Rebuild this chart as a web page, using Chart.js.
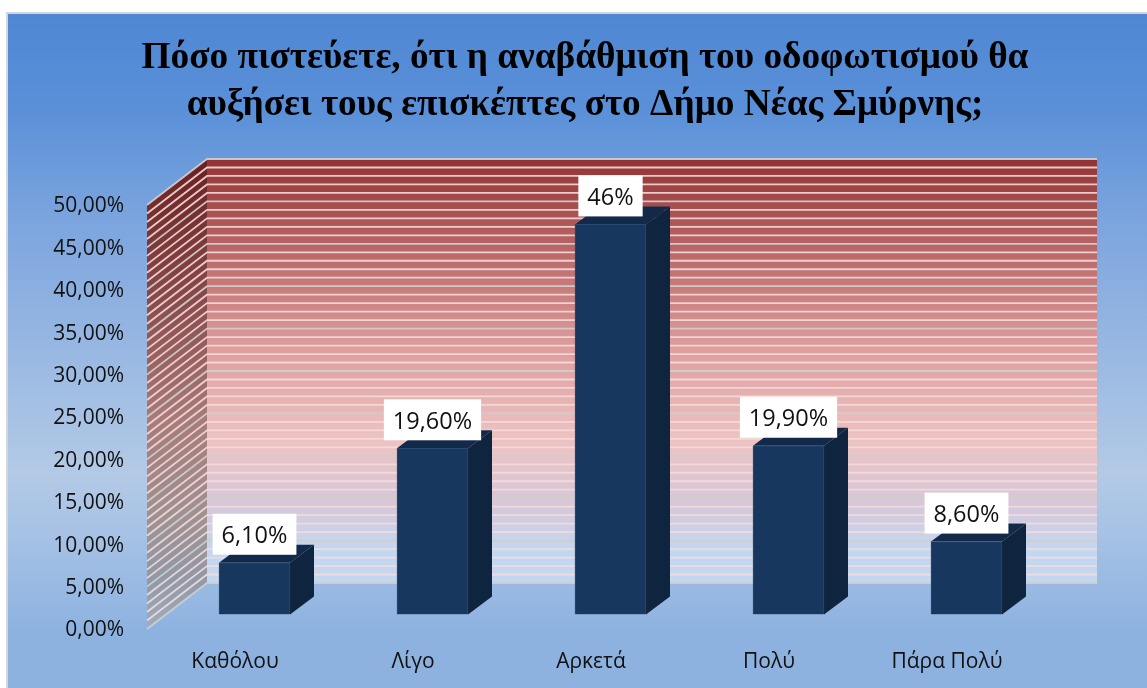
<!DOCTYPE html>
<html>
<head>
<meta charset="utf-8">
<script src="https://cdn.jsdelivr.net/npm/chart.js@4"></script>
<style>
  html, body { margin: 0; padding: 0; background: #fff; overflow: hidden; }
  #frame {
    position: absolute; left: 6px; top: 12px; width: 1141px; height: 676px;
    box-sizing: border-box;
    border-left: 2px solid #d4d6d9; border-top: 2px solid #d4d6d9;
    background: linear-gradient(180deg, #4f87d4 0%, #5a90d8 14%, #7ba4de 30%, #b3cae6 68%, #a8c3e5 76%, #8db2e0 92%, #8db2e0 100%);
  }
  canvas { position: absolute; left: 0; top: 0; }
</style>
</head>
<body>
<div id="frame"></div>
<canvas id="chart" width="1147" height="688"></canvas>
<script>
const titleLines = [
  "Πόσο πιστεύετε, ότι η αναβάθμιση του οδοφωτισμού θα",
  "αυξήσει τους επισκέπτες στο Δήμο Νέας Σμύρνης;"
];
const categories = ["Καθόλου", "Λίγο", "Αρκετά", "Πολύ", "Πάρα Πολύ"];
const values = [6.1, 19.6, 46, 19.9, 8.6];
const valueLabels = ["6,10%", "19,60%", "46%", "19,90%", "8,60%"];

const FONT = '"Open Sans", sans-serif';
// depth of the fake 3d box, in pixels
const wallDepth = { x: 60, y: -46 };
const barShift = { x: 18.5, y: -14.5 };
const barDepth = { x: 24, y: -18 };

// back wall and left wall with the 1% grid lines
const wallsPlugin = {
  id: "walls",
  beforeDatasetsDraw(chart) {
    const { ctx, chartArea: a, scales } = chart;
    const y = scales.y;
    const top = y.getPixelForValue(50), bottom = y.getPixelForValue(0);

    const back = ctx.createLinearGradient(0, top + wallDepth.y, 0, bottom + wallDepth.y);
    back.addColorStop(0, "#923333");
    back.addColorStop(0.2, "#b86363");
    back.addColorStop(0.45, "#de9e9e");
    back.addColorStop(0.66, "#eec2c2");
    back.addColorStop(0.82, "#d6c8da");
    back.addColorStop(0.92, "#c4d7f0");
    back.addColorStop(1, "#c4d7f0");
    ctx.save();
    ctx.fillStyle = back;
    ctx.fillRect(a.left + wallDepth.x, top + wallDepth.y, a.right - a.left, bottom - top);

    const side = ctx.createLinearGradient(0, top + wallDepth.y, 0, bottom);
    side.addColorStop(0, "#6a1f1f");
    side.addColorStop(0.3, "#8a4a4a");
    side.addColorStop(0.55, "#a87a78");
    side.addColorStop(0.75, "#a09090");
    side.addColorStop(0.9, "#909aa8");
    side.addColorStop(1, "#a0aebc");
    ctx.fillStyle = side;
    ctx.beginPath();
    ctx.moveTo(a.left, top);
    ctx.lineTo(a.left + wallDepth.x, top + wallDepth.y);
    ctx.lineTo(a.left + wallDepth.x, bottom + wallDepth.y);
    ctx.lineTo(a.left, bottom);
    ctx.closePath();
    ctx.fill();

    for (let v = 0; v <= 50; v++) {
      const py = y.getPixelForValue(v);
      ctx.strokeStyle = v % 5 === 0 ? "rgba(205,205,205,0.95)" : "rgba(244,220,220,0.9)";
      ctx.lineWidth = 1.8;
      ctx.beginPath();
      ctx.moveTo(a.left, py);
      ctx.lineTo(a.left + wallDepth.x, py + wallDepth.y);
      ctx.lineTo(a.right + wallDepth.x, py + wallDepth.y);
      ctx.stroke();
    }
    ctx.restore();

    // the bars are drawn by the library, shifted into the box
    const meta = chart.getDatasetMeta(0);
    ctx.save();
    meta.data.forEach(bar => {
      const l = bar.x - bar.width / 2 + barShift.x;
      const r = bar.x + bar.width / 2 + barShift.x;
      const t = bar.y + barShift.y;
      const b = bar.base + barShift.y;
      ctx.fillStyle = "#12294a";
      ctx.beginPath();
      ctx.moveTo(l, t);
      ctx.lineTo(l + barDepth.x, t + barDepth.y);
      ctx.lineTo(r + barDepth.x, t + barDepth.y);
      ctx.lineTo(r, t);
      ctx.closePath();
      ctx.fill();
      ctx.fillStyle = "#0f243e";
      ctx.beginPath();
      ctx.moveTo(r, t);
      ctx.lineTo(r + barDepth.x, t + barDepth.y);
      ctx.lineTo(r + barDepth.x, b + barDepth.y);
      ctx.lineTo(r, b);
      ctx.closePath();
      ctx.fill();
    });
    ctx.restore();
    ctx.save();
    ctx.translate(barShift.x, barShift.y);
  },
  afterDatasetsDraw(chart) {
    const { ctx } = chart;
    ctx.restore();
    // value labels on white boxes
    const meta = chart.getDatasetMeta(0);
    ctx.save();
    ctx.font = "23.5px " + FONT;
    ctx.textAlign = "center";
    ctx.textBaseline = "middle";
    meta.data.forEach((bar, i) => {
      const cx = bar.x + barShift.x;
      const boxBottom = bar.y + barShift.y - 8;
      const w = ctx.measureText(valueLabels[i]).width + 18;
      ctx.fillStyle = "#fff";
      ctx.fillRect(cx - w / 2, boxBottom - 41, w, 41);
      ctx.fillStyle = "#111";
      ctx.fillText(valueLabels[i], cx, boxBottom - 18);
    });
    ctx.restore();
  }
};

new Chart(document.getElementById("chart"), {
  type: "bar",
  data: {
    labels: categories,
    datasets: [{
      data: values,
      backgroundColor: "#17375e",
      borderColor: "#2b4a70",
      borderWidth: 1,
      barThickness: 71
    }]
  },
  options: {
    responsive: false,
    animation: false,
    layout: { padding: { left: 23, right: 0, top: 0, bottom: 0 } },
    plugins: {
      legend: { display: false },
      tooltip: { enabled: false },
      title: {
        display: true,
        text: titleLines,
        color: "#000",
        font: { family: '"Liberation Serif", serif', size: 37.3, weight: "bold", lineHeight: 1.26 },
        padding: { top: 35, bottom: 76 }
      }
    },
    scales: {
      x: {
        grid: { display: false },
        border: { display: false },
        ticks: { color: "#111", padding: 12, labelOffset: -1, font: { family: FONT, size: 21 }, maxRotation: 0 },
        afterFit(scale) { scale.height = 59; }
      },
      y: {
        min: 0,
        max: 50,
        grid: { display: false },
        border: { display: false },
        ticks: {
          stepSize: 5,
          color: "#111",
          padding: 15,
          labelOffset: 1.5,
          font: { family: FONT, size: 21 },
          callback: v => v.toFixed(2).replace(".", ",") + "%"
        },
        afterFit(scale) { scale.width = 124; }
      },
      // empty axis that only keeps the free strip on the right
      spacer: {
        position: "right",
        grid: { display: false },
        border: { display: false },
        ticks: { display: false },
        afterFit(scale) { scale.width = 110; }
      }
    }
  },
  plugins: [wallsPlugin]
});
</script>
</body>
</html>
